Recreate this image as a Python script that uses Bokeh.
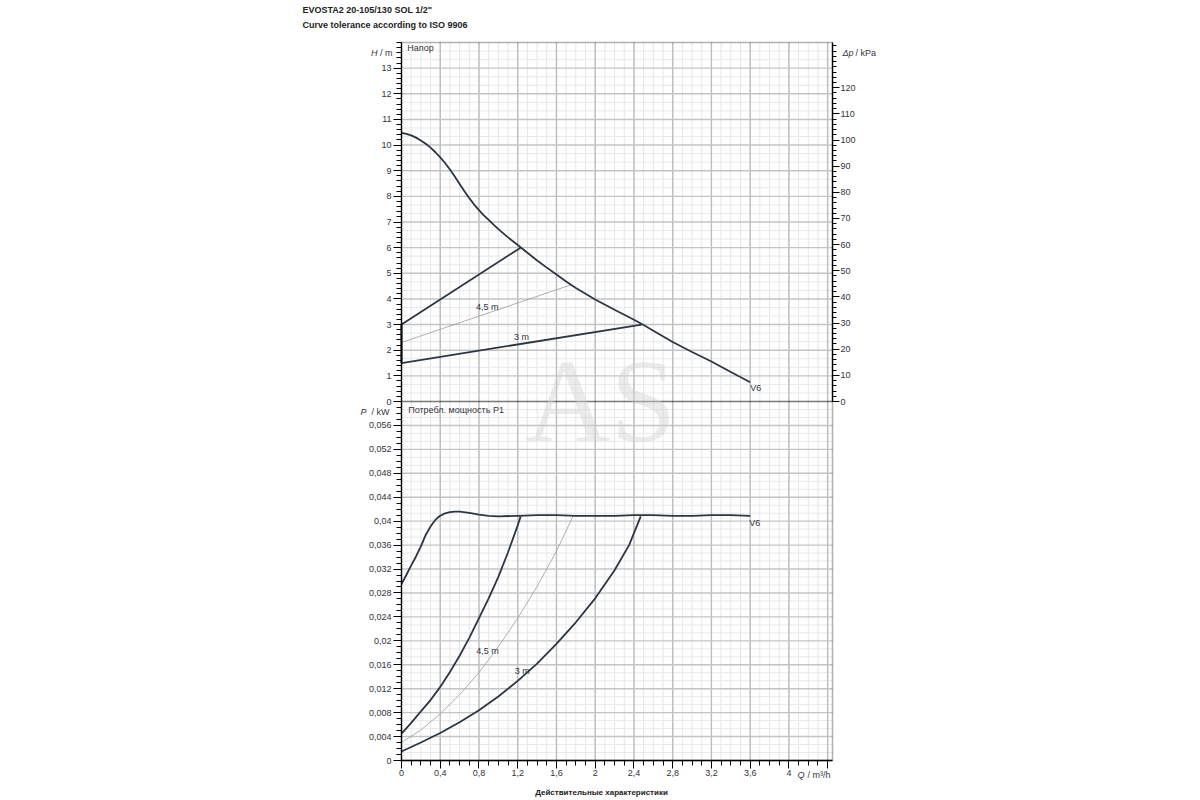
from bokeh.plotting import figure
from bokeh.models import (Range1d, LinearAxis, FixedTicker, Label, CustomJSTickFormatter,
                          BoxAnnotation)
from bokeh.embed import file_html
from bokeh.resources import INLINE

# ---------------- data ----------------
# Head curve, max speed V6
q_v6_h = [0, 0.05, 0.1, 0.15, 0.2, 0.25, 0.3, 0.35, 0.4, 0.45, 0.5, 0.55, 0.6, 0.65, 0.7,
          0.75, 0.8, 0.85, 0.9, 0.95, 1.0, 1.1, 1.2, 1.3, 1.4, 1.5, 1.6, 1.7, 1.8, 2.0, 2.2,
          2.4, 2.5, 2.6, 2.8, 3.0, 3.2, 3.4, 3.6]
h_v6 = [10.48, 10.44, 10.38, 10.29, 10.18, 10.05, 9.90, 9.72, 9.52, 9.30, 9.05, 8.77, 8.48,
        8.20, 7.93, 7.68, 7.46, 7.26, 7.08, 6.90, 6.72, 6.40, 6.10, 5.80, 5.50, 5.22, 4.95,
        4.68, 4.43, 3.98, 3.58, 3.19, 2.98, 2.76, 2.32, 1.93, 1.56, 1.15, 0.75]
# Proportional pressure lines
q_pp6 = [0, 1.23]
h_pp6 = [3.0, 6.0]
q_pp45 = [0, 1.75]
h_pp45 = [2.3, 4.55]
q_pp3 = [0, 2.48]
h_pp3 = [1.5, 3.0]
q_pp_edge = [0, 0]
h_pp_edge = [1.5, 3.0]

# Power curves P1 (kW)
q_v6_p = [0, 0.05, 0.1, 0.15, 0.2, 0.25, 0.3, 0.325, 0.35, 0.375, 0.4, 0.45, 0.5, 0.55, 0.6,
          0.7, 0.8, 0.9, 1.0, 1.2, 1.4, 1.6, 1.8, 2.0, 2.2, 2.4, 2.6, 2.8, 3.0, 3.2, 3.4, 3.6]
p_v6 = [0.0295, 0.0310, 0.0326, 0.0341, 0.0358, 0.0377, 0.0391, 0.0397, 0.0402, 0.0406,
        0.0409, 0.0413, 0.0415, 0.0416, 0.0416, 0.0414, 0.0411, 0.0409, 0.0408, 0.0409,
        0.0410, 0.0410, 0.0409, 0.0409, 0.0409, 0.0410, 0.0410, 0.0409, 0.0409, 0.0410,
        0.0410, 0.0409]
q_p6 = [0, 0.1, 0.2, 0.3, 0.4, 0.5, 0.6, 0.7, 0.8, 0.9, 1.0, 1.1, 1.2, 1.23]
p_p6 = [0.0045, 0.0063, 0.0082, 0.0101, 0.0123, 0.0148, 0.0175, 0.0205, 0.0238, 0.0271,
        0.0307, 0.0348, 0.0393, 0.0408]
q_p45 = [0, 0.2, 0.4, 0.6, 0.8, 1.0, 1.2, 1.4, 1.6, 1.77]
p_p45 = [0.0030, 0.0051, 0.0078, 0.0110, 0.0147, 0.0190, 0.0238, 0.0291, 0.0350, 0.0408]
q_p3 = [0, 0.2, 0.4, 0.6, 0.8, 1.0, 1.2, 1.4, 1.6, 1.8, 2.0, 2.2, 2.35, 2.47]
p_p3 = [0.0015, 0.0030, 0.0046, 0.0064, 0.0084, 0.0107, 0.0133, 0.0162, 0.0195, 0.0231,
        0.0271, 0.0318, 0.0360, 0.0408]

# Axis ticks
x_ticks = [0, 0.4, 0.8, 1.2, 1.6, 2.0, 2.4, 2.8, 3.2, 3.6, 4.0, 4.4]
h_ticks = [0, 1, 2, 3, 4, 5, 6, 7, 8, 9, 10, 11, 12, 13]
dp_ticks = [0, 10, 20, 30, 40, 50, 60, 70, 80, 90, 100, 110, 120]
p_ticks = [0, 0.004, 0.008, 0.012, 0.016, 0.02, 0.024, 0.028, 0.032, 0.036, 0.04, 0.044,
           0.048, 0.052, 0.056]

X_MAX = 4.45
H_MAX = 14.0
KPA_PER_M = 9.80665
P_MAX = 0.06

x_minor = [i / 10 for i in range(0, 45)]
h_minor = [i / 5 for i in range(0, 71)]
dp_minor = [i * 2 for i in range(0, 69)]
p_minor = [i / 1000 for i in range(0, 61)]
h_grid_minor = [k + j / 3 for k in range(14) for j in (1, 2)]
p_grid_minor = [k * 0.004 + j * 0.004 / 3 for k in range(15) for j in (1, 2)]

# ---------------- layout in page pixels ----------------
W, HGT = 1200, 800
PX_L, PX_R = 401, 832            # chart frame left / right
PY_T, PY_M, PY_B = 42, 401, 760  # top, H=0 / P=0.06, P=0

kx = (PX_R - PX_L) / X_MAX
ky = (PY_M - PY_T) / H_MAX
x_start = -PX_L / kx
x_end = X_MAX + (W - PX_R) / kx
y_end = H_MAX + PY_T / ky
y_start = -(HGT - PY_M) / ky
p_per_h = P_MAX / ((PY_B - PY_M) / ky)


def qx(px):
    return (px - PX_L) / kx


def hy(py):
    return (PY_M - py) / ky


def py_p(py):
    return (PY_B - py) / ky * p_per_h


FONT = "Liberation Sans"
TXT = "#333340"
CURVE = "#2c3642"

fmt_code = """
if (tick > 4.2 && tick < 4.6) { return ''; }
var v = Math.round(tick * 100000) / 100000;
return v.toString().replace('.', ',');
"""

p = figure(width=W, height=HGT, x_range=Range1d(x_start, x_end), y_range=Range1d(y_start, y_end),
           output_backend="svg", toolbar_location=None, x_axis_location=None,
           y_axis_location=None, min_border=0, min_border_left=0, min_border_right=0,
           min_border_top=0, min_border_bottom=0)
p.outline_line_color = None
p.background_fill_color = "white"
p.border_fill_color = "white"
p.grid.visible = False
p.extra_y_ranges = {
    "P": Range1d(P_MAX + y_start * p_per_h, P_MAX + y_end * p_per_h),
    "dp": Range1d(y_start * KPA_PER_M, y_end * KPA_PER_M),
}


def style_axis(ax, major_out=8, minor_out=5, standoff=2):
    ax.axis_line_color = "black"
    ax.axis_line_width = 1.3
    ax.major_tick_line_color = "black"
    ax.minor_tick_line_color = "black"
    ax.major_tick_in = 0
    ax.minor_tick_in = 0
    ax.major_tick_out = major_out
    ax.minor_tick_out = minor_out
    ax.major_label_standoff = standoff
    ax.major_label_text_font = FONT
    ax.major_label_text_font_size = "9px"
    ax.major_label_text_color = TXT
    ax.formatter = CustomJSTickFormatter(code=fmt_code)


# ---------------- grid lines ----------------
def vgrid(xs, color, width):
    xs = [x for x in xs if 0 < x < X_MAX]
    p.segment(x0=xs, y0=[-H_MAX] * len(xs), x1=xs, y1=[H_MAX] * len(xs),
              line_color=color, line_width=width)


def hgrid(ys, color, width, rname="default"):
    p.segment(x0=[0] * len(ys), y0=ys, x1=[X_MAX] * len(ys), y1=ys,
              line_color=color, line_width=width, y_range_name=rname)


vgrid(x_minor, "#e6e6e6", 1)
hgrid([y for y in h_grid_minor if y < H_MAX], "#e9e9e9", 1)
hgrid([y for y in p_grid_minor if y < P_MAX], "#e9e9e9", 1, "P")
vgrid(x_ticks, "#bdbdbd", 1.4)
hgrid([y for y in h_ticks if y > 0], "#c4c4c4", 1.4)
hgrid([y for y in p_ticks if y > 0], "#c4c4c4", 1.4, "P")

# ---------------- curves ----------------
p.line(q_pp45, h_pp45, line_color="#9a9a9a", line_width=0.8)
p.line(q_v6_h, h_v6, line_color=CURVE, line_width=1.8, line_join="round")
p.line(q_pp6, h_pp6, line_color=CURVE, line_width=1.8)
p.line(q_pp3, h_pp3, line_color=CURVE, line_width=1.8)
p.line(q_pp_edge, h_pp_edge, line_color=CURVE, line_width=2.2)

p.line(q_p45, p_p45, line_color="#9a9a9a", line_width=0.8, y_range_name="P")
p.line(q_v6_p, p_v6, line_color=CURVE, line_width=1.8, line_join="round", y_range_name="P")
p.line(q_p6, p_p6, line_color=CURVE, line_width=1.8, line_join="round", y_range_name="P")
p.line(q_p3, p_p3, line_color=CURVE, line_width=1.8, line_join="round", y_range_name="P")

# ---------------- frames ----------------
p.add_layout(BoxAnnotation(left=0, right=X_MAX, bottom=0, top=H_MAX, fill_alpha=0,
                           line_color="black", line_width=1.5))
p.add_layout(BoxAnnotation(left=0, right=X_MAX, bottom=0, top=P_MAX, fill_alpha=0,
                           line_color="black", line_width=1.5, y_range_name="P"))

# ---------------- axes ----------------
ah = LinearAxis(fixed_location=0, bounds=(0, H_MAX),
                ticker=FixedTicker(ticks=h_ticks, minor_ticks=h_minor))
style_axis(ah)
p.add_layout(ah, "left")

ap = LinearAxis(fixed_location=0, bounds=(0, P_MAX), y_range_name="P",
                ticker=FixedTicker(ticks=p_ticks, minor_ticks=p_minor))
style_axis(ap)
p.add_layout(ap, "left")

adp = LinearAxis(fixed_location=X_MAX, bounds=(0, H_MAX * KPA_PER_M), y_range_name="dp",
                 ticker=FixedTicker(ticks=dp_ticks, minor_ticks=dp_minor))
style_axis(adp, major_out=7, minor_out=4, standoff=1)
p.add_layout(adp, "right")

aq = LinearAxis(fixed_location=-H_MAX, bounds=(0, X_MAX),
                ticker=FixedTicker(ticks=x_ticks, minor_ticks=x_minor))
style_axis(aq, major_out=8, minor_out=5, standoff=1)
p.add_layout(aq, "below")


# ---------------- texts ----------------
def lab(x, y, text, size="9px", align="left", style="normal", color=TXT, font=FONT,
        alpha=1.0, rname="default"):
    p.add_layout(Label(x=x, y=y, text=text, text_font=font, text_font_size=size,
                       text_font_style=style, text_color=color, text_align=align,
                       text_baseline="middle", text_alpha=alpha, y_range_name=rname))


lab(2.057, 0.0, "AS", size="118px", align="center", font="Liberation Serif",
    color="#d2d2d2", alpha=0.45)

lab(qx(302), hy(9.5), 'EVOSTA2 20-105/130 SOL 1/2"', style="bold", color="#222222")
lab(qx(302), hy(24), "Curve tolerance according to ISO 9906", style="bold", color="#222222")
lab(qx(392), hy(52.5), "/ m", align="right")
lab(qx(377), hy(52.5), "H", align="right", style="italic")
lab(0.06, 13.80, "Напор")
lab(qx(842), hy(52.5), "Δp", style="italic")
lab(qx(855), hy(52.5), "/ kPa")
lab(0.886, 3.70, "4,5 m", align="center")
lab(1.24, 2.51, "3 m", align="center")
lab(3.60, 0.51, "V6")

lab(qx(389), py_p(411.5), "/ kW", align="right", rname="P")
lab(qx(366), py_p(411.5), "P", align="right", style="italic", rname="P")
lab(0.069, 0.0586, "Потребл. мощность P1", rname="P")
lab(0.889, 0.01828, "4,5 m", align="center", rname="P")
lab(1.247, 0.01494, "3 m", align="center", rname="P")
lab(3.59, 0.0397, "V6", rname="P")
lab(qx(797), py_p(774), "Q", style="italic", rname="P")
lab(qx(807), py_p(774), "/ m³/h", rname="P")
lab(qx(601), py_p(792), "Действительные характеристики", size="8px", align="center",
    style="bold", color="#222222", rname="P")

open("out.html", "w").write(file_html(p, INLINE))
